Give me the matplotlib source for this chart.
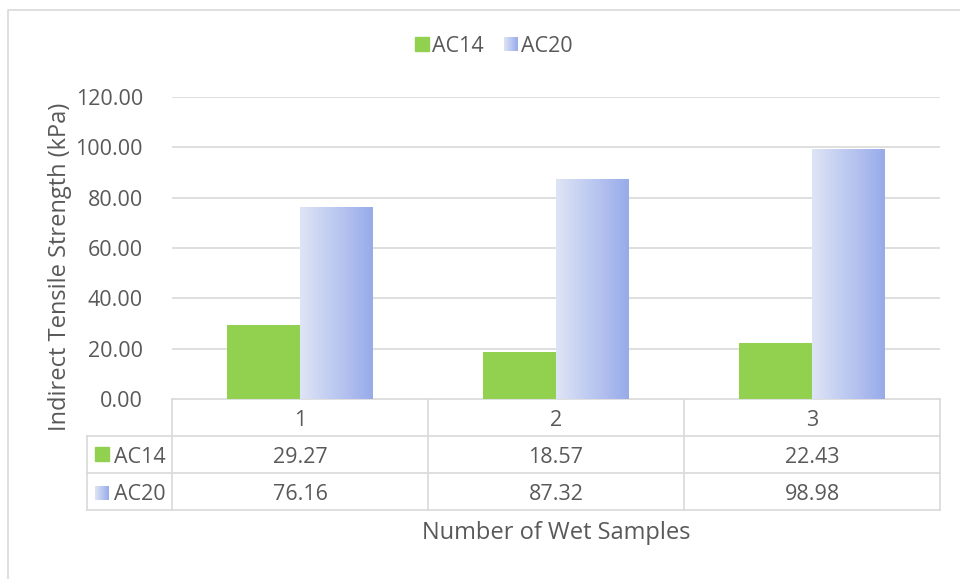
import numpy as np
import matplotlib.pyplot as plt
from matplotlib.patches import Rectangle
from matplotlib.colors import LinearSegmentedColormap

categories = ["1", "2", "3"]
series_names = ["AC14", "AC20"]
ac14 = [29.27, 18.57, 22.43]
ac20 = [76.16, 87.32, 98.98]
y_ticks = [0, 20, 40, 60, 80, 100, 120]

W, H = 960, 579
TXT = "#595959"
GRID = "#D9D9D9"
GREEN = "#92D050"
blue_cmap = LinearSegmentedColormap.from_list("blue_grad", ["#DFE5F6", "#97ABEA"])
plt.rcParams["font.family"] = ["Open Sans", "DejaVu Sans"]
FS = 15.5
FS_T = 17
CAP = 0.5 * 0.714 * FS * 100 / 72  # half cap height in pixels

fig = plt.figure(figsize=(W / 100, H / 100), dpi=100)

# overlay in pixel coordinates for the frame, table and labels
ov = fig.add_axes([0, 0, 1, 1])
ov.set_xlim(0, W)
ov.set_ylim(H, 0)
ov.axis("off")

# plot area
px0, px1, py0, py1 = 172, 940, 97, 399
ax = fig.add_axes([px0 / W, 1 - py1 / H, (px1 - px0) / W, (py1 - py0) / H])
ax.set_xlim(-0.5, 2.5)
ax.set_ylim(0, 120)
ax.set_yticks(y_ticks)
ax.set_yticklabels([f"{v:.2f}" for v in y_ticks], color=TXT, fontsize=FS)
ax.tick_params(axis="y", length=0, pad=21)
ax.set_xticks([])
for s in ax.spines.values():
    s.set_visible(False)
ax.grid(axis="y", color=GRID, linewidth=1.2)
ax.set_axisbelow(True)

x = np.arange(len(categories))
bw = 0.285
ax.bar(x - bw / 2, ac14, width=bw, color=GREEN, zorder=2)
blue_bars = ax.bar(x + bw / 2, ac20, width=bw, color="none", zorder=2)
grad = np.linspace(0, 1, 256).reshape(1, -1)
for b in blue_bars:
    bx, by = b.get_x(), b.get_y()
    ax.imshow(grad, cmap=blue_cmap, aspect="auto", zorder=2,
              extent=(bx, bx + b.get_width(), by, by + b.get_height()))
ax.set_xlim(-0.5, 2.5)
ax.set_ylim(0, 120)

# frame of the chart area
ov.plot([8, 8, W + 5], [H + 5, 10, 10], color=GRID, lw=1.2)

# data table
rows_y = [399, 436, 473, 510]
col_x = [172, 428, 684, 940]
ov.plot([px0, px1], [399, 399], color=GRID, lw=1.2)
for yy in rows_y[1:]:
    ov.plot([87, 940], [yy, yy], color=GRID, lw=1.2)
ov.plot([87, 87], [436, 510], color=GRID, lw=1.2)
for xx in col_x:
    ov.plot([xx, xx], [399, 510], color=GRID, lw=1.2)


def label(xp, yc, s, ha="center"):
    ov.text(xp, yc + CAP, s, ha=ha, va="baseline", color=TXT, fontsize=FS)


for i, c in enumerate(categories):
    cx = (col_x[i] + col_x[i + 1]) / 2
    label(cx, 418, c)
    label(cx, 455, f"{ac14[i]:.2f}")
    label(cx, 492, f"{ac20[i]:.2f}")


def key(x0, yc, green):
    s = 14
    if green:
        ov.add_patch(Rectangle((x0, yc - s / 2), s, s, color=GREEN))
    else:
        ov.imshow(grad, cmap=blue_cmap, aspect="auto",
                  extent=(x0, x0 + s, yc + s / 2, yc - s / 2))


key(95, 454, True)
label(114, 455, series_names[0], ha="left")
key(95, 493, False)
label(114, 492, series_names[1], ha="left")

# legend
key(415, 44, True)
label(432, 44, series_names[0], ha="left")
key(504, 44, False)
label(521, 44, series_names[1], ha="left")

ov.set_xlim(0, W)
ov.set_ylim(H, 0)

# axis titles
ov.text(60, 267, "Indirect Tensile Strength (kPa)", rotation=90, ha="center",
        va="center", color=TXT, fontsize=FS_T)
ov.text(556, 533, "Number of Wet Samples", ha="center", va="center",
        color=TXT, fontsize=FS_T)

fig.savefig("out.png", dpi=100, facecolor="white")
